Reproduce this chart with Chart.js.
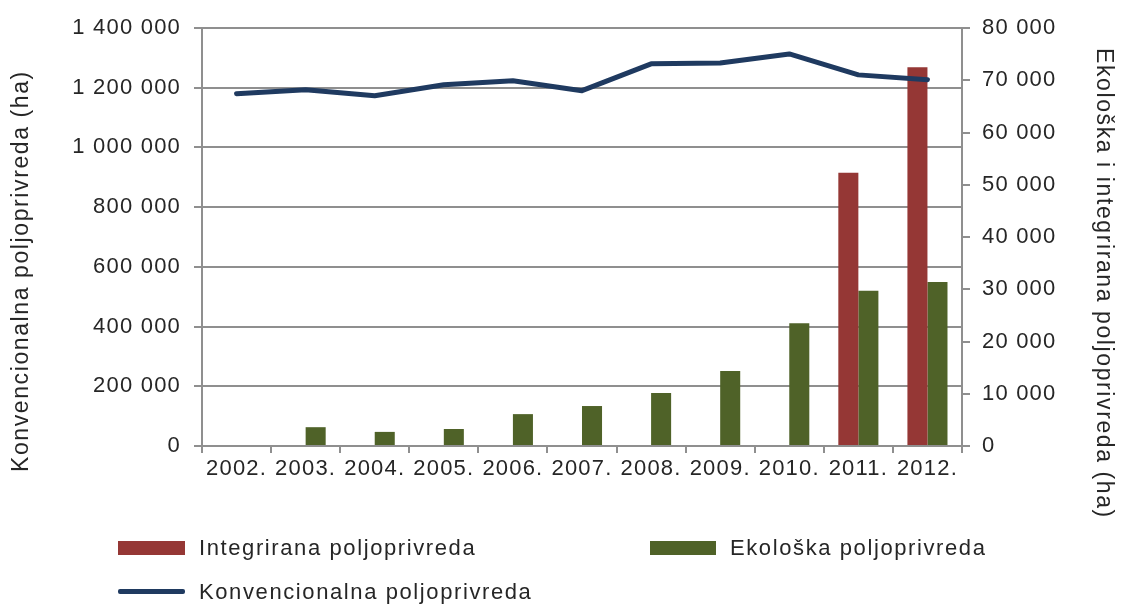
<!DOCTYPE html>
<html>
<head>
<meta charset="utf-8">
<script src="https://cdn.jsdelivr.net/npm/chart.js@4"></script>
<style>
  html, body { margin: 0; padding: 0; background: #fff; }
  #wrap { position: relative; width: 1122px; height: 605px; overflow: hidden; }
  #c { position: absolute; left: 0; top: 0; }
  .t { position: absolute; font-family: "Liberation Sans", Arial, sans-serif; color: #262626; white-space: nowrap; }
  .lg { font-size: 22px; letter-spacing: 1.6px; line-height: 24px; }
  .sw { position: absolute; }
  .vt { font-size: 23px; letter-spacing: 1.6px; line-height: 24px; transform-origin: 0 0; }
</style>
</head>
<body>
<div id="wrap">
  <canvas id="c" width="1122" height="605"></canvas>
  <div class="t vt" id="tl" style="left:8px; top:472px; transform: rotate(-90deg);">Konvencionalna poljoprivreda (ha)</div>
  <div class="t vt" id="tr" style="left:1117px; top:48px; transform: rotate(90deg);">Ekološka i integrirana poljoprivreda (ha)</div>
  <div class="sw" style="left:118px; top:541px; width:67px; height:14px; background:#953735;"></div>
  <div class="t lg" style="left:199px; top:536px;">Integrirana poljoprivreda</div>
  <div class="sw" style="left:650px; top:541px; width:66px; height:14px; background:#4F6228;"></div>
  <div class="t lg" style="left:730px; top:536px;">Ekološka poljoprivreda</div>
  <div class="sw" style="left:118px; top:589px; width:67px; height:5px; background:#1F3A60; border-radius:2px;"></div>
  <div class="t lg" style="left:199px; top:580px;">Konvencionalna poljoprivreda</div>
</div>
<script>
const categories = ["2002.", "2003.", "2004.", "2005.", "2006.", "2007.", "2008.", "2009.", "2010.", "2011.", "2012."];
const integrirana = [null, null, null, null, null, null, null, null, null, 52300, 72500];
const ekoloska = [null, 3600, 2700, 3250, 6100, 7650, 10150, 14350, 23500, 29700, 31400];
const konvencionalna = [1180000, 1193000, 1173000, 1210000, 1223000, 1190000, 1280000, 1283000, 1313000, 1243000, 1227000];
const leftTicks = [0, 200000, 400000, 600000, 800000, 1000000, 1200000, 1400000];
const rightTicks = [0, 10000, 20000, 30000, 40000, 50000, 60000, 70000, 80000];
const seriesNames = ["Integrirana poljoprivreda", "Ekološka poljoprivreda", "Konvencionalna poljoprivreda"];

function fmt(v) { return String(v).replace(/\B(?=(\d{3})+(?!\d))/g, ' '); }

const FONT = { family: '"Liberation Sans", Arial, sans-serif', size: 22 };
const GRID = '#8f8f8f';
const TXT = '#262626';

const spacing = {
  id: 'spacing',
  beforeDraw(chart) { chart.ctx.letterSpacing = '1.2px'; }
};

new Chart(document.getElementById('c'), {
  data: {
    labels: categories,
    datasets: [
      { type: 'line', label: seriesNames[2], data: konvencionalna, yAxisID: 'yL', borderColor: '#1F3A60', borderWidth: 5, pointRadius: 0, tension: 0, order: 0, borderCapStyle: 'round', borderJoinStyle: 'round' },
      { type: 'bar', label: seriesNames[0], data: integrirana, yAxisID: 'yR', backgroundColor: '#953735', order: 1, categoryPercentage: 0.58, barPercentage: 1.0 },
      { type: 'bar', label: seriesNames[1], data: ekoloska, yAxisID: 'yR', backgroundColor: '#4F6228', order: 1, categoryPercentage: 0.58, barPercentage: 1.0 }
    ]
  },
  options: {
    responsive: false,
    animation: false,
    layout: { padding: { top: 28, left: 0, right: 0, bottom: 0 } },
    plugins: { legend: { display: false }, tooltip: { enabled: false } },
    scales: {
      x: {
        type: 'category',
        offset: true,
        grid: { display: true, drawOnChartArea: false, offset: true, tickLength: 7, color: GRID, lineWidth: 2 },
        border: { color: GRID, width: 2 },
        ticks: { font: FONT, color: TXT, maxRotation: 0, minRotation: 0, autoSkip: false, padding: 3 },
        afterFit(s) { s.height = 159; }
      },
      yL: {
        position: 'left',
        min: 0, max: 1400000,
        afterBuildTicks(s) { s.ticks = leftTicks.map(v => ({ value: v })); },
        grid: { color: GRID, lineWidth: 2, tickLength: 8 },
        border: { color: GRID, width: 2 },
        ticks: { font: FONT, color: TXT, padding: 13, callback: v => fmt(v) },
        afterFit(s) { s.width = 202; }
      },
      yR: {
        position: 'right',
        min: 0, max: 80000,
        afterBuildTicks(s) { s.ticks = rightTicks.map(v => ({ value: v })); },
        grid: { drawOnChartArea: false, color: GRID, lineWidth: 2, tickLength: 8 },
        border: { color: GRID, width: 2 },
        ticks: { font: FONT, color: TXT, padding: 12, callback: v => fmt(v) },
        afterFit(s) { s.width = 160; }
      }
    }
  },
  plugins: [spacing]
});
</script>
</body>
</html>
